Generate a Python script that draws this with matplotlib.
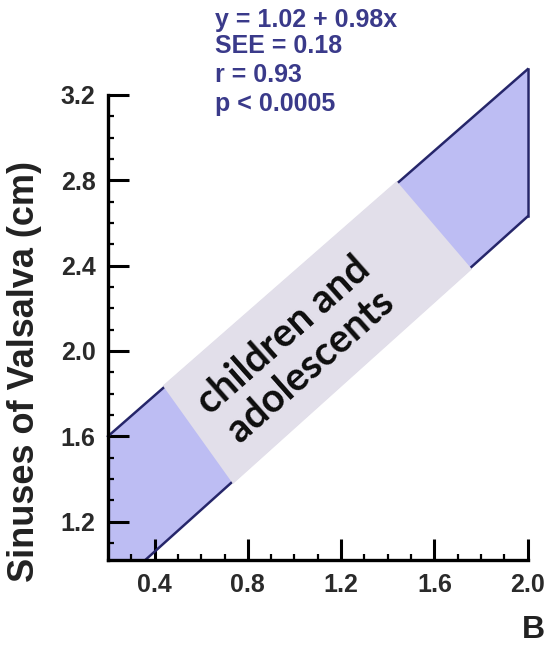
import numpy as np
import matplotlib
matplotlib.use("Agg")
import matplotlib.pyplot as plt
from matplotlib.patches import Polygon
from matplotlib.ticker import FixedLocator

# ---- data ----
band_x = [0.20, 2.00]          # upper limit line x
band_upper = [1.60, 3.32]      # upper limit line y
band_lower_x = [0.36, 2.00]    # lower limit line x
band_lower = [1.02, 2.63]      # lower limit line y
x_ticks = [0.4, 0.8, 1.2, 1.6, 2.0]
y_ticks = [1.2, 1.6, 2.0, 2.4, 2.8, 3.2]
x_minor = [0.3, 0.5, 0.6, 0.7, 0.9, 1.0, 1.1, 1.3, 1.4, 1.5, 1.7, 1.8, 1.9]
y_minor = [1.1, 1.3, 1.4, 1.5, 1.7, 1.8, 1.9, 2.1, 2.2, 2.3, 2.5, 2.6, 2.7,
           2.9, 3.0, 3.1]
stats_lines = ["y = 1.02 + 0.98x", "SEE = 0.18", "r = 0.93", "p < 0.0005"]
label_upper_x = [0.447, 1.437]   # grey label box along upper line
label_lower_x = [0.738, 1.749]   # grey label box along lower line
label_text = "children and\nadolescents"

fig = plt.figure(figsize=(5.47, 6.45), dpi=100)
ax = fig.add_axes([108/547, 85/645, (527.6-108)/547, (580-85)/645])
ax.set_xlim(0.20, 2.00)
ax.set_ylim(1.02, 3.34)

fill_col = "#bdbdf3"
edge_col = "#26266a"
grey_col = "#e2dfea"

# band polygon
px = [band_x[0], band_x[1], band_lower_x[1], band_lower_x[0], band_x[0]]
py = [band_upper[0], band_upper[1], band_lower[1], band_lower[0], band_lower[0]]
ax.fill(px, py, color=fill_col, zorder=1, lw=0)
ax.plot(band_x, band_upper, color=edge_col, lw=1.8, zorder=2, clip_on=False)
ax.plot(band_lower_x, band_lower, color=edge_col, lw=1.8, zorder=2, clip_on=False)
ax.plot([band_x[1], band_lower_x[1]], [band_upper[1], band_lower[1]],
        color=edge_col, lw=1.8, zorder=2, clip_on=False)

# grey label box
uy = np.interp(label_upper_x, band_x, band_upper)
ly = np.interp(label_lower_x, band_lower_x, band_lower)
box = Polygon([[label_upper_x[0], uy[0]], [label_upper_x[1], uy[1]],
               [label_lower_x[1], ly[1]], [label_lower_x[0], ly[0]]],
              closed=True, facecolor=grey_col, edgecolor=grey_col, lw=3, zorder=3)
ax.add_patch(box)
ax.text(1.011, 2.0, label_text, rotation=41.5, rotation_mode="anchor",
        ha="center", va="center", multialignment="center",
        fontsize=28.5, family="Lato", fontweight="bold", color="#0d0d0d",
        linespacing=1.15, zorder=4)

# axes styling
for s in ["top", "right"]:
    ax.spines[s].set_visible(False)
ax.spines["left"].set_bounds(1.02, 3.2)
ax.spines["left"].set_linewidth(2.4)
ax.spines["bottom"].set_linewidth(2.4)
ax.spines["left"].set_zorder(5)
ax.spines["bottom"].set_zorder(5)
ax.set_xticks(x_ticks)
ax.set_yticks(y_ticks)
ax.set_xticklabels([f"{v:.1f}" for v in x_ticks])
ax.set_yticklabels([f"{v:.1f}" for v in y_ticks])
ax.xaxis.set_minor_locator(FixedLocator(x_minor))
ax.yaxis.set_minor_locator(FixedLocator(y_minor))
ax.tick_params(which="major", direction="in", length=15, width=2.2,
               labelsize=18, pad=9, labelcolor="#2a2a2a")
ax.tick_params(which="minor", direction="in", length=4, width=1.6)
for lab in ax.get_xticklabels() + ax.get_yticklabels():
    lab.set_fontweight("bold")
    lab.set_family("Liberation Sans")

fig.text(25/547, 1 - 372/645, "Sinuses of Valsalva (cm)", rotation=90,
         ha="center", va="center", fontsize=26, fontweight="bold",
         family="Liberation Sans", color="#222222")

fig.text(545/547, 1 - 630/645, "B", fontsize=23, fontweight="bold",
         family="Liberation Sans", color="#222222", ha="right", va="center")

ys = [20, 46, 75, 104]
for t, yy in zip(stats_lines, ys):
    fig.text(215/547, 1 - yy/645, t, fontsize=18, fontweight="bold",
             family="Liberation Sans", color="#3a3a8a", ha="left", va="center")

fig.savefig("out.png", dpi=100)
